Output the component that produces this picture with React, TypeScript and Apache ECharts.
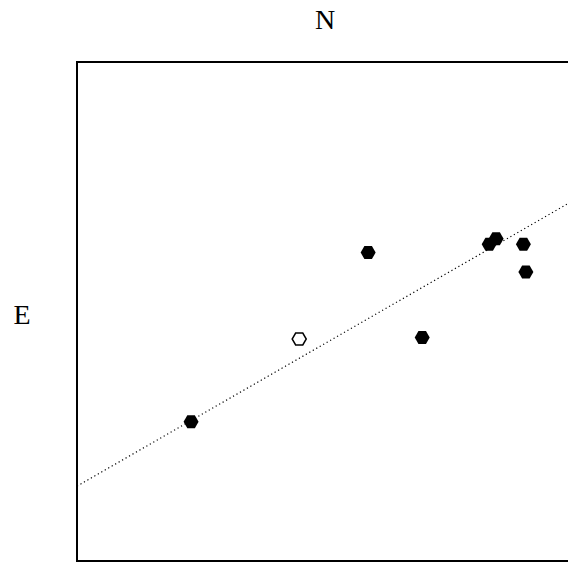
import React, { useEffect, useRef } from "react";
import * as echarts from "echarts";

const filledPoints: [number, number][] = [
  [23.0, 27.9],
  [58.7, 61.8],
  [69.6, 44.8],
  [83.1, 63.5],
  [84.5, 64.6],
  [90.0, 63.5],
  [90.5, 57.9],
];
const openPoints: [number, number][] = [[44.8, 44.5]];
const fitLine: [number, number][] = [
  [0, 15.0],
  [100, 72.2],
];
const xTitle = "N";
const yTitle = "E";

const HEX = "path://M0,6.5 L3.5,0 L10.5,0 L14,6.5 L10.5,13 L3.5,13 Z";

export default function App() {
  const ref = useRef<HTMLDivElement>(null);
  useEffect(() => {
    if (!ref.current) return;
    const chart = echarts.init(ref.current, null, { renderer: "svg" });
    chart.setOption({
      animation: false,
      backgroundColor: "#fff",
      grid: {
        left: 77,
        right: 27,
        top: 62,
        bottom: 2,
        show: true,
        borderColor: "#000",
        borderWidth: 2,
        backgroundColor: "transparent",
      },
      xAxis: {
        type: "value",
        min: 0,
        max: 100,
        axisLine: { show: false },
        axisTick: { show: false },
        axisLabel: { show: false },
        splitLine: { show: false },
      },
      yAxis: {
        type: "value",
        min: 0,
        max: 100,
        axisLine: { show: false },
        axisTick: { show: false },
        axisLabel: { show: false },
        splitLine: { show: false },
      },
      graphic: [
        {
          type: "text",
          x: 325,
          y: 19,
          style: {
            text: xTitle,
            font: "28px 'Liberation Serif'",
            fill: "#000",
            align: "center",
            verticalAlign: "middle",
          },
        },
        {
          type: "text",
          x: 22,
          y: 314,
          style: {
            text: yTitle,
            font: "28px 'Liberation Serif'",
            fill: "#000",
            align: "center",
            verticalAlign: "middle",
          },
        },
      ],
      series: [
        {
          type: "line",
          data: fitLine,
          symbol: "none",
          lineStyle: { color: "#000", width: 1.2, type: [1.2, 2.8] },
          silent: true,
        },
        {
          type: "scatter",
          data: filledPoints,
          symbol: HEX,
          symbolSize: [15, 13],
          itemStyle: { color: "#000", opacity: 1 },
        },
        {
          type: "scatter",
          data: openPoints,
          symbol: HEX,
          symbolSize: [14, 12],
          itemStyle: { color: "#fff", borderColor: "#000", borderWidth: 1.5, opacity: 1 },
        },
      ],
    });
    return () => chart.dispose();
  }, []);
  return (
    <div
      style={{
        position: "fixed",
        left: 0,
        top: 0,
        width: 568,
        height: 563,
        overflow: "hidden",
        background: "#fff",
      }}
    >
      <div ref={ref} style={{ width: 600, height: 563 }} />
    </div>
  );
}
